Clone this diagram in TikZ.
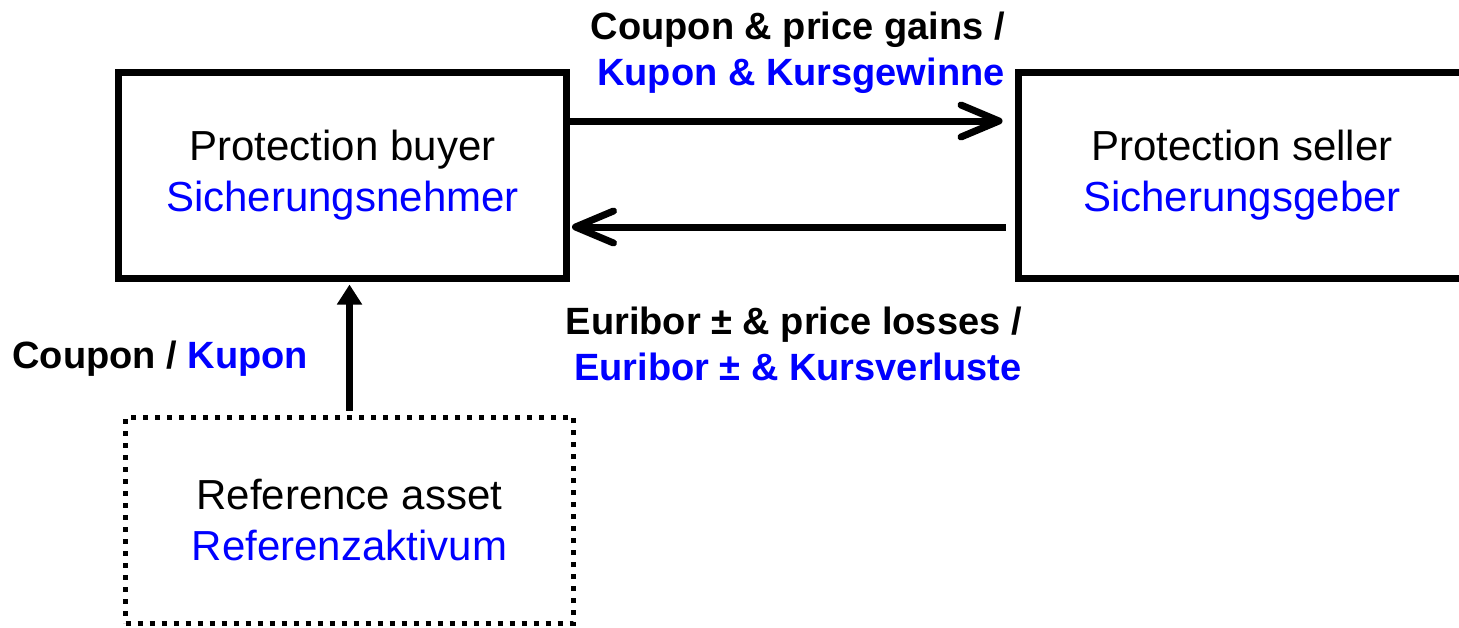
\documentclass[tikz,border=0pt]{standalone}
\usepackage{fontspec}
\setmainfont{Liberation Sans}
\usetikzlibrary{arrows.meta}

\begin{document}
\begin{tikzpicture}[x=0.5pt,y=-0.5pt,
    party/.style={draw,line width=3.5pt,minimum width=224pt,minimum height=103pt,
      align=center,font=\fontsize{21}{25.5}\selectfont},
    asset/.style={party,line width=2.5pt,dash pattern=on 2.5pt off 3.5pt},
    lbl/.style={inner sep=0pt,font=\bfseries\fontsize{19}{23}\selectfont},
    flow/.style={line width=3.5pt}]
  \clip (0,0) rectangle (1459,627);
  % the two parties and the underlying asset
  \node[party] (buyer) at (342.5,175) {Protection buyer\\\textcolor{blue}{Sicherungsnehmer}};
  \node[party] (seller) at (1242,175) {Protection seller\\\textcolor{blue}{Sicherungsgeber}};
  \node[asset] (asset) at (349.5,520) {Reference asset\\\textcolor{blue}{Referenzaktivum}};
  % payment flows
  \draw[flow,-{Straight Barb[round,length=19pt,width=16pt]},shorten >=6pt]
    ([yshift=27pt]buyer.east) -- ([yshift=27pt]seller.west);
  \draw[flow,-{Straight Barb[round,length=19pt,width=16pt]},shorten <=4.5pt,shorten >=1pt]
    ([yshift=-26pt]seller.west) -- ([yshift=-26pt]buyer.east);
  \draw[flow,-{Triangle[length=10pt,width=12pt]},shorten <=2pt,shorten >=1.5pt]
    (asset.north) -- (asset.north |- buyer.south);
  % labels
  \node[lbl,anchor=north east,align=right] (gains) at (1005,12)
    {Coupon \& price gains /\\\textcolor{blue}{Kupon \& Kursgewinne}};
  \node[lbl,anchor=north east,align=right] (losses) at (1022,307)
    {Euribor ± \& price losses /\\\textcolor{blue}{Euribor ± \& Kursverluste}};
  \node[lbl,anchor=west] (coupon) at (12,359) {Coupon / \textcolor{blue}{Kupon}};
\end{tikzpicture}
\end{document}
